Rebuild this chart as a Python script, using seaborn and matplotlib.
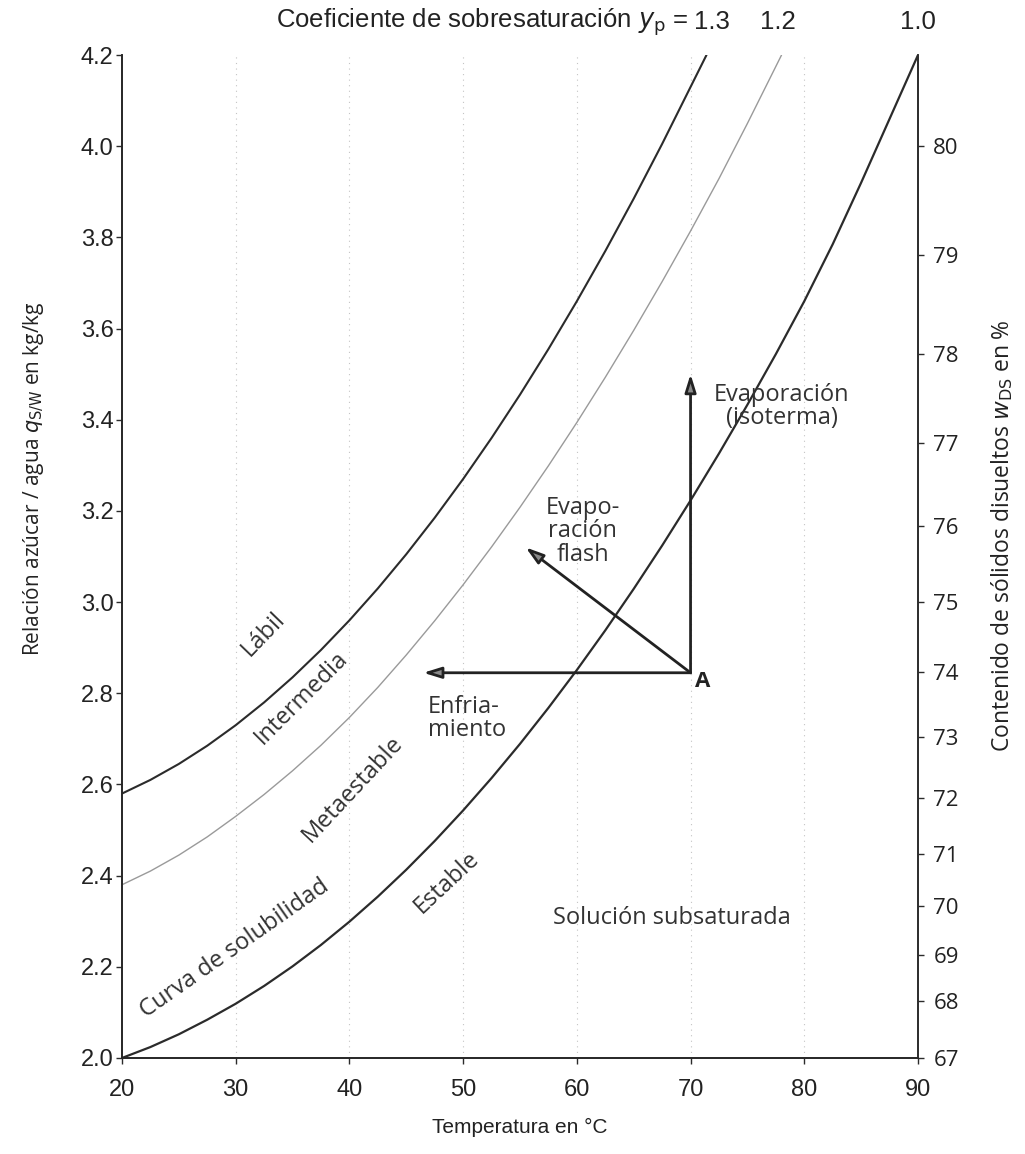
import numpy as np
import pandas as pd
import matplotlib
matplotlib.use("Agg")
import matplotlib.pyplot as plt
import seaborn as sns

# ---- data ----
temp_10 = [20, 22.5, 25, 27.5, 30, 32.5, 35, 37.5, 40, 42.5, 45, 47.5, 50, 52.5, 55,
           57.5, 60, 62.5, 65, 67.5, 70, 72.5, 75, 77.5, 80, 82.5, 85, 87.5, 90]
q_10 = [2.000, 2.024, 2.052, 2.084, 2.119, 2.158, 2.201, 2.248, 2.299, 2.354, 2.413, 2.476, 2.543, 2.614, 2.689,
        2.768, 2.851, 2.938, 3.029, 3.124, 3.223, 3.326, 3.433, 3.544, 3.660, 3.785, 3.920, 4.060, 4.200]
temp_12 = [20, 22.5, 25, 27.5, 30, 32.5, 35, 37.5, 40, 42.5, 45, 47.5, 50, 52.5, 55,
           57.5, 60, 62.5, 65, 67.5, 70, 72.5, 75, 77.5, 78.0]
q_12 = [2.380, 2.410, 2.445, 2.485, 2.530, 2.578, 2.630, 2.686, 2.747, 2.813, 2.884, 2.959, 3.038, 3.121, 3.208,
        3.299, 3.394, 3.493, 3.596, 3.703, 3.814, 3.929, 4.050, 4.175, 4.200]
temp_13 = [20, 22.5, 25, 27.5, 30, 32.5, 35, 37.5, 40, 42.5, 45, 47.5, 50, 52.5, 55,
           57.5, 60, 62.5, 65, 67.5, 70, 71.4]
q_13 = [2.58, 2.61, 2.645, 2.685, 2.73, 2.78, 2.835, 2.895, 2.96, 3.03, 3.105, 3.185, 3.27, 3.36, 3.455,
        3.555, 3.66, 3.77, 3.885, 4.005, 4.13, 4.20]

x_ticks = [20, 30, 40, 50, 60, 70, 80, 90]
y_ticks = [2.0, 2.2, 2.4, 2.6, 2.8, 3.0, 3.2, 3.4, 3.6, 3.8, 4.0, 4.2]
w_labels = [67, 68, 69, 70, 71, 72, 73, 74, 75, 76, 77, 78, 79, 80]
w_pos = [2.0, 2.125, 2.226, 2.333, 2.448, 2.571, 2.704, 2.846, 3.0, 3.167, 3.348, 3.545, 3.762, 4.0]

point_A = (70, 2.845)
arrow_vert_end = (70, 3.50)
arrow_horiz_end = (46.5, 2.845)
arrow_flash_end = (55.5, 3.12)

sns.set_theme(style="ticks")
plt.rcParams['font.family'] = ['Open Sans', 'DejaVu Sans']
narrow = ['Liberation Sans', 'DejaVu Sans']

fig = plt.figure(figsize=(10.25, 11.54), dpi=100)
ax = fig.add_axes([0.119, 0.0832, 0.7766, 0.8691])

dark = '#2b2b2b'
df10 = pd.DataFrame({'T': temp_10, 'q': q_10})
df12 = pd.DataFrame({'T': temp_12, 'q': q_12})
df13 = pd.DataFrame({'T': temp_13, 'q': q_13})
sns.lineplot(data=df10, x='T', y='q', ax=ax, color=dark, lw=1.6)
sns.lineplot(data=df12, x='T', y='q', ax=ax, color='#9a9a9a', lw=1.0)
sns.lineplot(data=df13, x='T', y='q', ax=ax, color=dark, lw=1.5)

for xv in x_ticks[1:-1]:
    ax.axvline(xv, color='#c4c4c4', lw=0.8, ls=(0, (1, 4)), zorder=0)

ax.set_xlim(20, 90)
ax.set_ylim(2.0, 4.2)
ax.set_xticks(x_ticks)
ax.set_yticks(y_ticks)
ax.set_yticklabels([f"{v:.1f}" for v in y_ticks])
ax.tick_params(axis='both', labelsize=17, length=4, width=1, color=dark, labelcolor='#222222')
ax.tick_params(axis='x', pad=11)
ax.tick_params(axis='y', pad=2)
for lab in ax.get_xticklabels() + ax.get_yticklabels():
    lab.set_family(narrow)
for s in ['left', 'bottom', 'right']:
    ax.spines[s].set_color(dark)
    ax.spines[s].set_linewidth(1.2)
ax.spines['top'].set_visible(False)

ax.set_xlabel('Temperatura en °C', fontsize=15, labelpad=12, family=narrow, color='#222222')
ax.set_ylabel('Relación azúcar / agua $q_{\\mathrm{S/W}}$ en kg/kg', fontsize=15, labelpad=16, color='#222222')
ax.yaxis.set_label_coords(-0.095, 0.578)

ax2 = ax.twinx()
ax2.set_ylim(2.0, 4.2)
ax2.set_yticks(w_pos)
ax2.set_yticklabels([str(v) for v in w_labels])
ax2.tick_params(axis='y', labelsize=16, length=4, width=1, color=dark, labelcolor='#222222', pad=7)
ax2.spines['top'].set_visible(False)
ax2.spines['right'].set_color(dark)
ax2.spines['right'].set_linewidth(1.2)
ax2.set_ylabel('Contenido de sólidos disueltos $w_{\\mathrm{DS}}$ en %', fontsize=16.5, color='#222222')
ax2.yaxis.set_label_coords(1.09, 0.521)

# arrows
aprops = dict(arrowstyle='-|>,head_length=0.9,head_width=0.28', color='#222222', lw=2.0,
              shrinkA=0, shrinkB=0, fc='#8a8a8a', ec='#222222')
ax.annotate('', xy=arrow_vert_end, xytext=point_A, arrowprops=aprops)
ax.annotate('', xy=arrow_horiz_end, xytext=point_A, arrowprops=aprops)
ax.annotate('', xy=arrow_flash_end, xytext=point_A, arrowprops=aprops)
ax.text(70.4, 2.825, 'A', fontsize=16, fontweight='bold', ha='left', va='center', color='#222222')

tc = '#333333'
fs = 17
ax.text(78.0, 3.43, 'Evaporación\n(isoterma)', fontsize=fs, ha='center', va='center', color=tc, linespacing=0.95)
ax.text(60.5, 3.155, 'Evapo-\nración\nflash', fontsize=fs, ha='center', va='center', color=tc, linespacing=0.95, multialignment='center')
ax.text(46.9, 2.745, 'Enfria-\nmiento', fontsize=fs, ha='left', va='center', color=tc, linespacing=0.95)
ax.text(68.4, 2.307, 'Solución subsaturada', fontsize=fs, ha='center', va='center', color=tc)
ax.text(32.4, 2.93, 'Lábil', fontsize=fs, rotation=46, ha='center', va='center', color=tc, rotation_mode='anchor')
ax.text(35.8, 2.79, 'Intermedia', fontsize=fs, rotation=45, ha='center', va='center', color=tc, rotation_mode='anchor')
ax.text(40.3, 2.59, 'Metaestable', fontsize=fs, rotation=47, ha='center', va='center', color=tc, rotation_mode='anchor')
ax.text(29.9, 2.24, 'Curva de solubilidad', fontsize=fs, rotation=35, ha='center', va='center', color=tc, rotation_mode='anchor')
ax.text(48.6, 2.385, 'Estable', fontsize=fs, rotation=43, ha='center', va='center', color=tc, rotation_mode='anchor')

# top labels
ytop = 1.033
tkw = dict(transform=ax.get_xaxis_transform(), fontsize=18.5, va='center', family=narrow, color='#222222')
ax.text(71.9, ytop, '1.3', ha='center', **tkw)
ax.text(77.7, ytop, '1.2', ha='center', **tkw)
ax.text(90, ytop, '1.0', ha='center', **tkw)
ax.text(69.8, ytop, 'Coeficiente de sobresaturación $y_\\mathrm{p}$ =', ha='right', **tkw)

fig.savefig('out.png', dpi=100)
